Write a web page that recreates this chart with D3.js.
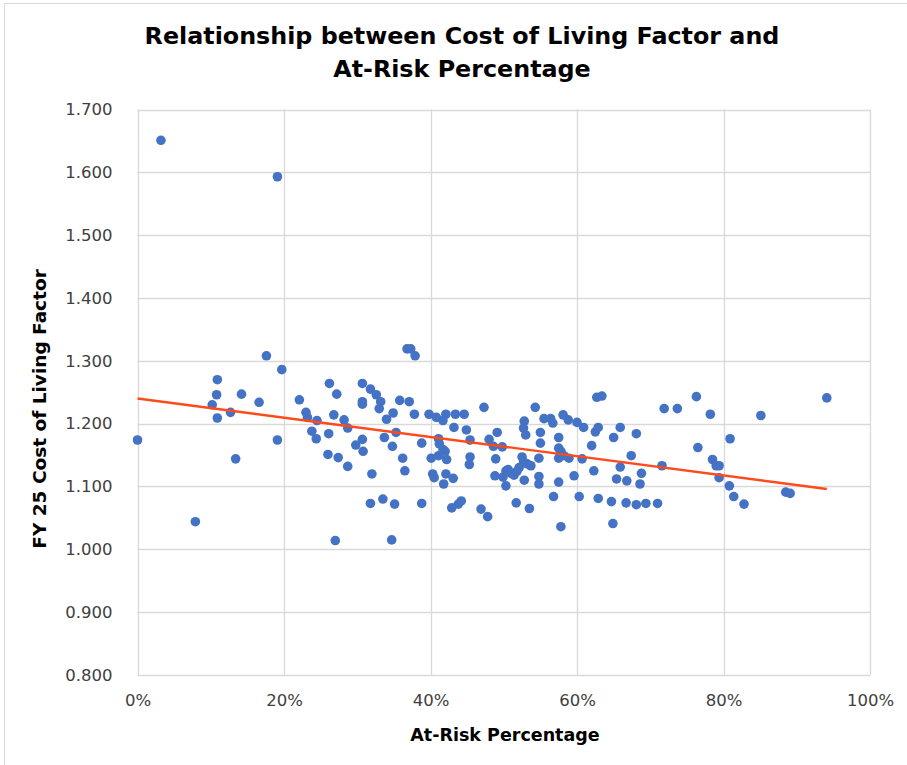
<!DOCTYPE html>
<html>
<head>
<meta charset="utf-8">
<script src="https://cdn.jsdelivr.net/npm/d3@7"></script>
<style>
  html, body { margin: 0; padding: 0; background: #fff; }
  svg { display: block; }
</style>
</head>
<body>
<svg id="chart" width="907" height="765"></svg>
<script>
// At-Risk Percentage (%) for each district
const atRiskPct = [
  0.0, 3.2, 7.9, 10.9, 10.8, 10.2, 10.9, 12.7, 14.2, 13.4,
  17.6, 19.1, 19.7, 16.6, 19.1, 22.1, 23.0, 23.2, 24.5, 23.8,
  24.4, 26.2, 27.2, 26.8, 26.1, 26.0, 27.4, 28.2, 28.7, 28.7,
  27.0, 30.7, 30.7, 30.7, 30.7, 29.8, 30.8, 32.0, 31.8, 31.8,
  32.6, 33.2, 33.0, 34.0, 34.9, 35.8, 37.1, 37.8, 36.8, 37.3,
  37.9, 33.7, 35.3, 34.8, 36.2, 36.5, 38.8, 33.5, 35.1, 34.7,
  38.8, 39.8, 40.8, 41.7, 42.1, 43.4, 44.6, 43.2, 44.9, 45.4,
  41.1, 41.2, 41.7, 42.0, 41.1, 42.2, 40.1, 40.3, 40.5, 42.1,
  43.1, 41.8, 45.4, 45.3, 42.9, 43.8, 44.2, 46.9, 47.8, 47.3,
  48.0, 48.6, 49.1, 49.8, 48.9, 48.8, 52.5, 52.7, 53.2, 53.7,
  52.1, 51.8, 51.0, 51.4, 50.3, 50.6, 49.9, 50.3, 52.8, 51.7,
  53.5, 54.3, 52.8, 52.7, 53.0, 55.0, 55.0, 54.8, 54.8, 54.8,
  55.5, 56.4, 56.7, 56.8, 57.5, 57.5, 57.8, 57.5, 58.2, 58.9,
  57.5, 57.8, 58.1, 58.8, 60.0, 60.9, 60.7, 59.6, 60.3, 62.0,
  62.3, 62.5, 62.9, 62.7, 63.4, 62.9, 64.7, 64.9, 65.0, 65.9,
  68.1, 67.4, 65.9, 65.4, 66.8, 68.8, 68.6, 66.7, 68.1, 69.4,
  71.0, 71.6, 71.9, 73.7, 76.3, 78.2, 76.5, 78.5, 79.0, 79.4,
  79.4, 80.9, 80.8, 81.4, 82.8, 85.1, 88.5, 89.1, 94.1
];

// FY 25 Cost of Living Factor for each district
const colFactor = [
  1.174, 1.651, 1.044, 1.270, 1.246, 1.230, 1.209, 1.218, 1.247, 1.144,
  1.308, 1.593, 1.286, 1.234, 1.174, 1.238, 1.218, 1.210, 1.205, 1.188,
  1.176, 1.264, 1.247, 1.214, 1.184, 1.151, 1.146, 1.206, 1.193, 1.132,
  1.014, 1.264, 1.235, 1.231, 1.175, 1.166, 1.156, 1.120, 1.073, 1.255,
  1.246, 1.235, 1.224, 1.207, 1.217, 1.237, 1.235, 1.215, 1.319, 1.319,
  1.308, 1.178, 1.186, 1.164, 1.145, 1.125, 1.169, 1.080, 1.072, 1.015,
  1.073, 1.215, 1.210, 1.205, 1.215, 1.215, 1.215, 1.194, 1.190, 1.174,
  1.176, 1.168, 1.159, 1.156, 1.149, 1.143, 1.145, 1.120, 1.114, 1.120,
  1.113, 1.104, 1.147, 1.135, 1.066, 1.072, 1.077, 1.064, 1.052, 1.226,
  1.175, 1.164, 1.186, 1.163, 1.144, 1.117, 1.147, 1.139, 1.136, 1.133,
  1.130, 1.124, 1.121, 1.118, 1.125, 1.127, 1.115, 1.101, 1.110, 1.074,
  1.065, 1.226, 1.204, 1.193, 1.182, 1.186, 1.169, 1.145, 1.116, 1.104,
  1.208, 1.208, 1.201, 1.084, 1.178, 1.161, 1.156, 1.145, 1.149, 1.145,
  1.107, 1.036, 1.214, 1.206, 1.202, 1.194, 1.144, 1.117, 1.084, 1.165,
  1.125, 1.187, 1.194, 1.242, 1.244, 1.081, 1.076, 1.041, 1.178, 1.194,
  1.184, 1.149, 1.131, 1.112, 1.109, 1.121, 1.104, 1.074, 1.071, 1.073,
  1.073, 1.133, 1.224, 1.224, 1.243, 1.215, 1.162, 1.143, 1.133, 1.133,
  1.114, 1.176, 1.101, 1.084, 1.072, 1.213, 1.091, 1.089, 1.241
];

// Linear trendline (value at 0% and slope per 100%)
const trendIntercept = 1.240;
const trendSlope = -0.153;

const xTicks = [0, 20, 40, 60, 80, 100];
const yTicks = [0.8, 0.9, 1.0, 1.1, 1.2, 1.3, 1.4, 1.5, 1.6, 1.7];

const titleLines = ["Relationship between Cost of Living Factor and", "At-Risk Percentage"];
const xTitle = "At-Risk Percentage";
const yTitle = "FY 25 Cost of Living Factor";

const svg = d3.select("#chart");
const W = 907, H = 765;
const plot = { left: 137.5, right: 870, top: 109.5, bottom: 675 };

const x = d3.scaleLinear().domain([0, 100]).range([plot.left, plot.right]);
const y = d3.scaleLinear().domain([0.8, 1.7]).range([plot.bottom, plot.top]);

// chart area border (only left/top visible inside the picture)
svg.append("rect")
  .attr("x", 4.5).attr("y", 3.5).attr("width", W + 10).attr("height", H + 10)
  .attr("fill", "#fff").attr("stroke", "#d9d9d9").attr("stroke-width", 1);

const FONT = "'DejaVu Sans', sans-serif";

// horizontal gridlines
svg.append("g").selectAll("line").data(yTicks).join("line")
  .attr("x1", plot.left).attr("x2", plot.right)
  .attr("y1", d => Math.round(y(d)) + 0.5).attr("y2", d => Math.round(y(d)) + 0.5)
  .attr("stroke", "#d9d9d9").attr("stroke-width", 1.3);

// vertical gridlines
svg.append("g").selectAll("line").data(xTicks).join("line")
  .attr("y1", plot.top).attr("y2", plot.bottom)
  .attr("x1", d => Math.round(x(d)) + 0.5).attr("x2", d => Math.round(x(d)) + 0.5)
  .attr("stroke", "#d9d9d9").attr("stroke-width", 1.3);

// Y axis labels via d3 axis
const yAxis = d3.axisLeft(y).tickValues(yTicks).tickFormat(d3.format(".3f")).tickSize(0).tickPadding(0);
const gy = svg.append("g").attr("transform", `translate(${plot.left - 25},0)`).call(yAxis);
gy.select(".domain").remove();
gy.selectAll("text").attr("font-family", FONT).attr("font-size", 16.5).attr("fill", "#404040");

// X axis labels via d3 axis
const xAxis = d3.axisBottom(x).tickValues(xTicks).tickFormat(d => d + "%").tickSize(0).tickPadding(0);
const gx = svg.append("g").attr("transform", `translate(0,${plot.bottom + 19})`).call(xAxis);
gx.select(".domain").remove();
gx.selectAll("text").attr("font-family", FONT).attr("font-size", 16.5).attr("fill", "#404040");

// points
const pts = atRiskPct.map((p, i) => ({ p, v: colFactor[i] }));
svg.append("g").selectAll("circle").data(pts).join("circle")
  .attr("cx", d => x(d.p)).attr("cy", d => y(d.v)).attr("r", 4.8)
  .attr("fill", "#4472C4");

// trendline across the data range
const xExt = d3.extent(atRiskPct);
const line = d3.line().x(d => x(d)).y(d => y(trendIntercept + trendSlope * d / 100));
svg.append("path").datum(xExt).attr("d", line)
  .attr("fill", "none").attr("stroke", "#FF4A1C").attr("stroke-width", 2.4);

// title
svg.append("g").selectAll("text").data(titleLines).join("text")
  .attr("x", 462).attr("y", (d, i) => 44 + i * 33)
  .attr("text-anchor", "middle")
  .attr("font-family", FONT).attr("font-weight", "bold").attr("font-size", 23.8)
  .attr("fill", "#000").text(d => d);

// axis titles
svg.append("text").attr("x", 505).attr("y", 741).attr("text-anchor", "middle")
  .attr("font-family", FONT).attr("font-weight", "bold").attr("font-size", 17.5)
  .attr("fill", "#000").text(xTitle);

svg.append("text").attr("transform", "translate(46,409) rotate(-90)").attr("text-anchor", "middle")
  .attr("font-family", FONT).attr("font-weight", "bold").attr("font-size", 18.5)
  .attr("fill", "#000").text(yTitle);
</script>
</body>
</html>
